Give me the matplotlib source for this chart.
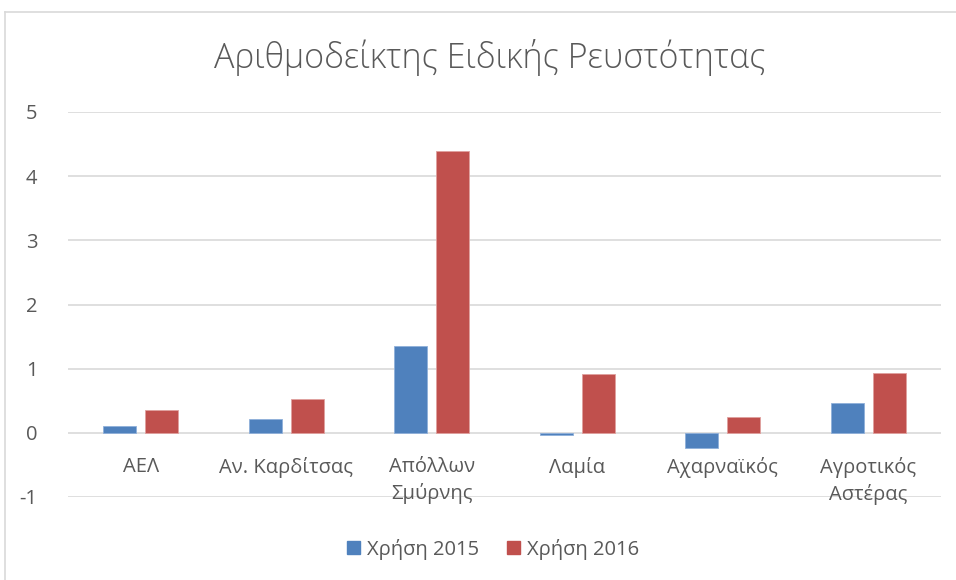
import matplotlib
matplotlib.use("Agg")
import matplotlib.pyplot as plt
import numpy as np
from matplotlib.lines import Line2D

plt.rcParams['font.family'] = ['Open Sans', 'DejaVu Sans']

categories = ["ΑΕΛ", "Αν. Καρδίτσας", "Απόλλων\nΣμύρνης", "Λαμία", "Αχαρναϊκός", "Αγροτικός\nΑστέρας"]
series_names = ["Χρήση 2015", "Χρήση 2016"]
values_2015 = [0.11, 0.22, 1.36, -0.04, -0.23, 0.46]
values_2016 = [0.36, 0.52, 4.39, 0.91, 0.25, 0.93]
yticks = [-1, 0, 1, 2, 3, 4, 5]

W, H = 956, 580
fig = plt.figure(figsize=(W / 100, H / 100), dpi=100)
ax = fig.add_axes([68 / W, 1 - 497 / H, (941 - 68) / W, (497 - 112) / H])

txt = '#595959'
c2015 = '#4F81BD'
c2016 = '#C0504D'

x = np.arange(len(categories))
bw = 0.227
off = 0.144
ax.bar(x - off, values_2015, width=bw, color=c2015, edgecolor='#8FB0DA', linewidth=0.6, zorder=3, label=series_names[0])
ax.bar(x + off, values_2016, width=bw, color=c2016, edgecolor='#E0A09E', linewidth=0.6, zorder=3, label=series_names[1])

ax.set_xlim(-0.5, len(categories) - 0.5)
ax.set_ylim(-1, 5)
ax.set_yticks(yticks)
ax.set_yticklabels([str(v) for v in yticks])
for y in yticks:
    ax.axhline(y, color='#D9D9D9', linewidth=1.2, zorder=1)

for s in ax.spines.values():
    s.set_visible(False)
ax.tick_params(axis='y', length=0, pad=22, labelsize=14.5, labelcolor=txt)
ax.set_xticks([])

for xi, lab in zip(x, categories):
    ax.annotate(lab, xy=(xi, 0), xytext=(0, -17.5), textcoords='offset points',
                ha='center', va='top', fontsize=14.5, color=txt, linespacing=1.35)

fig.text(490 / W, 1 - 58 / H, "Αριθμοδείκτης Ειδικής Ρευστότητας", ha='center', va='center',
         fontsize=24.5, color=txt, fontweight='light')

handles = [plt.Rectangle((0, 0), 1, 1, color=c2015), plt.Rectangle((0, 0), 1, 1, color=c2016)]
fig.legend(handles, series_names, loc='center', bbox_to_anchor=(493 / W, 1 - 549 / H), ncol=2,
           frameon=False, fontsize=14.5, labelcolor=txt, handlelength=0.65, handleheight=0.65,
           handletextpad=0.35, columnspacing=1.4)

fig.add_artist(Line2D([5 / W, 5 / W], [0, 1 - 12 / H], transform=fig.transFigure, color='#D9D9D9', linewidth=1.2))
fig.add_artist(Line2D([5 / W, 1], [1 - 12 / H, 1 - 12 / H], transform=fig.transFigure, color='#D9D9D9', linewidth=1.2))

fig.savefig('out.png', dpi=100, facecolor='white')
